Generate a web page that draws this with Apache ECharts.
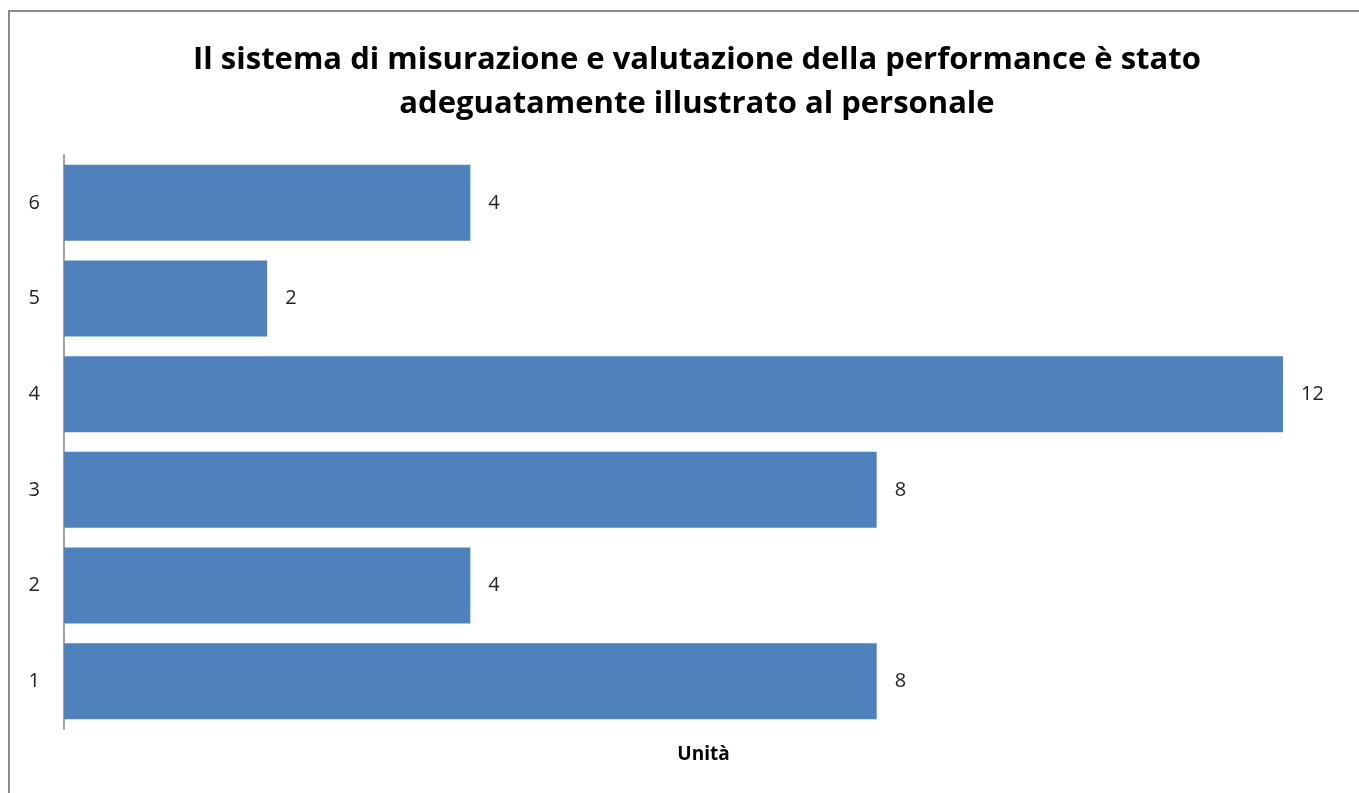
<!DOCTYPE html>
<html>
<head>
<meta charset="utf-8">
<script src="https://cdn.jsdelivr.net/npm/echarts@6/dist/echarts.min.js"></script>
<style>
html,body{margin:0;padding:0;background:#fff;width:1359px;height:793px;overflow:hidden;}
#frame{position:absolute;left:8px;top:10px;width:1400px;height:820px;border:2px solid #8c8c8c;box-sizing:border-box;}
#chart{position:absolute;left:0;top:0;width:1359px;height:793px;}
</style>
</head>
<body>
<div id="frame"></div>
<div id="chart"></div>
<script>
const categories = ['1', '2', '3', '4', '5', '6'];
const values = [8, 4, 8, 12, 2, 4];
const titleLines = ['Il sistema di misurazione e valutazione della performance è stato', 'adeguatamente illustrato al personale'];
const axisName = 'Unità';

const chart = echarts.init(document.getElementById('chart'), null, {renderer: 'canvas'});
chart.setOption({
  animation: false,
  backgroundColor: 'transparent',
  title: {
    text: titleLines.join('\n'),
    left: 692,
    textAlign: 'center',
    top: 33,
    textStyle: {
      fontFamily: 'Open Sans',
      fontWeight: 'bold',
      fontSize: 31,
      lineHeight: 44,
      color: '#000'
    }
  },
  grid: {left: 64, right: 76, top: 155, bottom: 64, containLabel: false},
  xAxis: {
    type: 'value',
    min: 0,
    max: 12,
    axisLine: {show: false},
    axisTick: {show: false},
    axisLabel: {show: false},
    splitLine: {show: false},
    name: axisName,
    nameLocation: 'middle',
    nameGap: 16,
    nameTextStyle: {fontFamily: 'Open Sans', fontWeight: 'bold', fontSize: 19, color: '#000', padding: [0, 0, 0, 60]}
  },
  yAxis: {
    type: 'category',
    data: categories,
    axisLine: {show: true, lineStyle: {color: '#a6a6a6', width: 2}},
    axisTick: {show: false},
    axisLabel: {fontFamily: 'Open Sans', fontSize: 20, color: '#222', margin: 24}
  },
  series: [{
    type: 'bar',
    data: values,
    barWidth: 76,
    itemStyle: {color: '#4F81BD'},
    label: {
      show: true,
      position: 'right',
      distance: 18,
      fontFamily: 'Open Sans',
      fontSize: 20,
      color: '#222'
    }
  }]
});
</script>
</body>
</html>
